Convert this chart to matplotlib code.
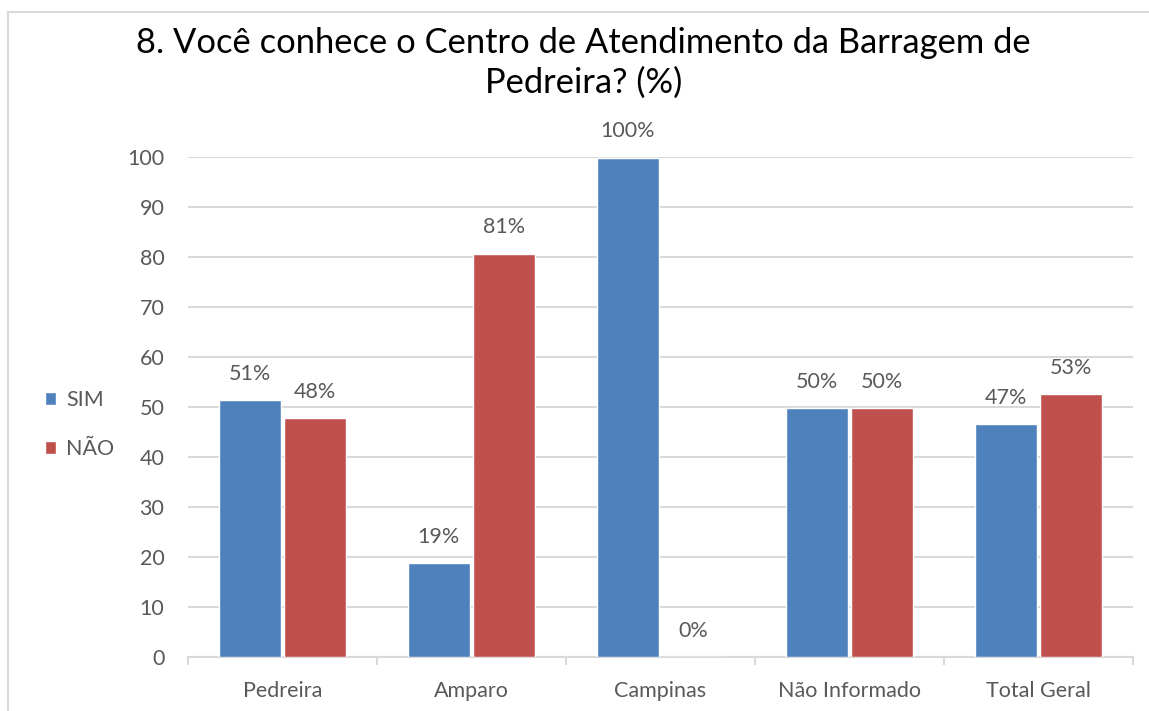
import matplotlib.pyplot as plt
import numpy as np
from matplotlib.patches import Rectangle

categories = ["Pedreira", "Amparo", "Campinas", "Não Informado", "Total Geral"]
sim = [51.4, 18.8, 99.8, 49.8, 46.6]
nao = [47.8, 80.6, 0.0, 49.8, 52.6]
series_names = ["SIM", "NÃO"]
title = "8. Você conhece o Centro de Atendimento da Barragem de\nPedreira? (%)"

BLUE = "#4F81BD"
RED = "#C0504D"
TEXT = "#595959"
GRID = "#D9D9D9"
FS = 15.5

plt.rcParams["font.family"] = ["Lato", "DejaVu Sans"]

fig = plt.figure(figsize=(11.49, 7.11), dpi=100)
ax = fig.add_axes([0.1636, 0.0759, 0.8225, 0.7033])

# chart frame (only left/top edges fall inside the image)
fig.patches.append(Rectangle((8 / 1149, -0.1), 1.2, 1 - 12 / 711 + 0.1,
                             transform=fig.transFigure, fill=False,
                             edgecolor=GRID, linewidth=1.5))

x = np.arange(len(categories))
w = 0.33
bars_sim = ax.bar(x - w / 2 - 0.008, sim, w, color=BLUE, edgecolor="white",
                  linewidth=1, label=series_names[0], zorder=3)
bars_nao = ax.bar(x + w / 2 + 0.008, nao, w, color=RED, edgecolor="white",
                  linewidth=1, label=series_names[1], zorder=3)

for bars in (bars_sim, bars_nao):
    for b in bars:
        h = b.get_height()
        ax.text(b.get_x() + b.get_width() / 2, h + 3.3, f"{h:.0f}%",
                ha="center", va="bottom", fontsize=FS, color=TEXT,
                clip_on=False)

ax.set_xlim(-0.5, len(categories) - 0.5)
ax.set_ylim(0, 100)
ax.set_yticks(range(0, 101, 10))
ax.yaxis.grid(True, color=GRID, linewidth=1.5, zorder=0)
ax.set_axisbelow(True)

ax.set_xticks(x)
ax.set_xticklabels(categories)
ax.set_xticks(np.arange(-0.5, len(categories), 1), minor=True)
ax.tick_params(axis="x", which="major", length=0, pad=17, labelsize=FS,
               labelcolor=TEXT)
ax.tick_params(axis="x", which="minor", length=6, width=1.5, color=GRID)
ax.tick_params(axis="y", length=0, pad=17, labelsize=FS, labelcolor=TEXT)

for side in ("top", "right", "left"):
    ax.spines[side].set_visible(False)
ax.spines["bottom"].set_color(GRID)
ax.spines["bottom"].set_linewidth(1.5)

fig.text(0.508, 0.962, title, ha="center", va="top", fontsize=24.8,
         color="black", linespacing=1.3)

fig.legend(handles=[bars_sim, bars_nao], labels=series_names,
           loc="center left", bbox_to_anchor=(0.022, 0.403), frameon=False,
           fontsize=FS, labelcolor=TEXT, handlelength=0.55, handleheight=0.55,
           handletextpad=0.45, labelspacing=1.35)

fig.savefig("out.png", dpi=100)
